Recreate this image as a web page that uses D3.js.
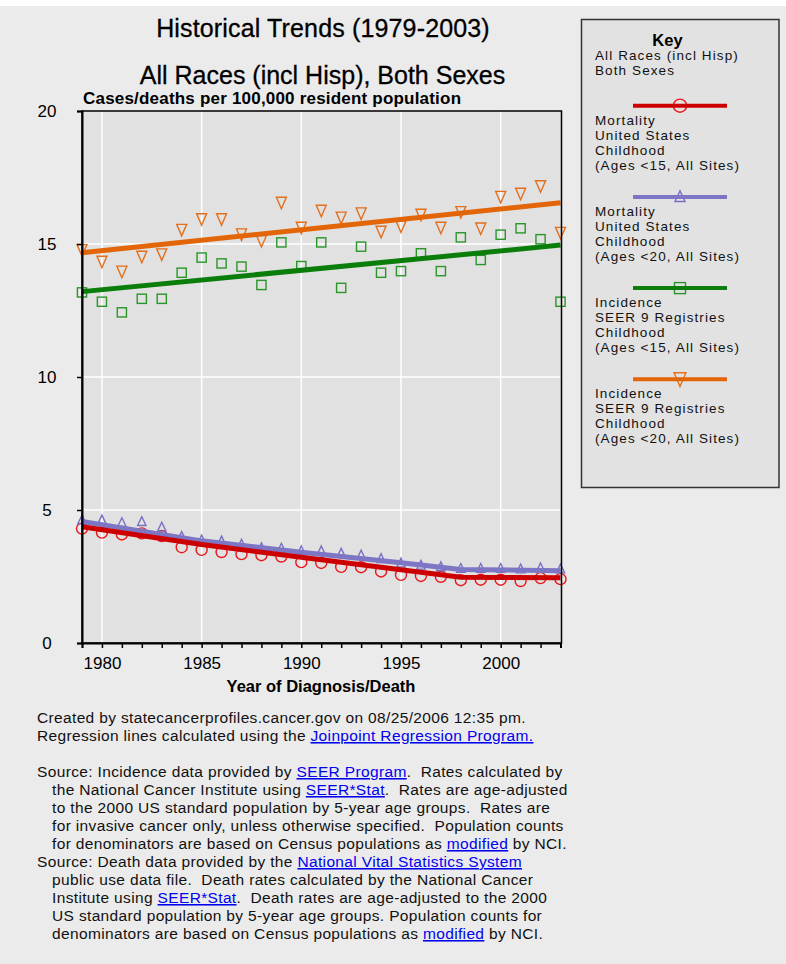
<!DOCTYPE html>
<html>
<head>
<meta charset="utf-8">
<script src="https://cdn.jsdelivr.net/npm/d3@7"></script>
<style>
  body { margin: 0; background: #ebebeb; }
  svg { display: block; font-family: "Liberation Sans", Arial, sans-serif; }
</style>
</head>
<body>
<div id="chart"></div>
<script>
// Childhood cancer trends, 1979-2003
const years = [1979, 1980, 1981, 1982, 1983, 1984, 1985, 1986, 1987, 1988, 1989, 1990, 1991,
  1992, 1993, 1994, 1995, 1996, 1997, 1998, 1999, 2000, 2001, 2002, 2003];
const xTickLabels = [1980, 1985, 1990, 1995, 2000];
const yTickLabels = [0, 5, 10, 15, 20];

const mort15 = [4.30, 4.15, 4.08, 4.12, 4.02, 3.60, 3.50, 3.42, 3.34, 3.30, 3.25, 3.04, 3.01,
  2.86, 2.85, 2.69, 2.56, 2.52, 2.49, 2.36, 2.38, 2.38, 2.33, 2.44, 2.40];
const mort20 = [4.62, 4.62, 4.52, 4.56, 4.35, 4.00, 3.87, 3.83, 3.71, 3.58, 3.56, 3.46, 3.46,
  3.37, 3.30, 3.17, 3.00, 2.92, 2.86, 2.80, 2.80, 2.80, 2.78, 2.82, 2.78];
const inc15 = [13.18, 12.83, 12.43, 12.94, 12.94, 13.92, 14.49, 14.27, 14.15, 13.46, 15.06, 14.17, 15.06,
  13.35, 14.90, 13.92, 13.98, 14.65, 13.98, 15.25, 14.40, 15.35, 15.59, 15.18, 12.83];
const inc20 = [14.77, 14.33, 13.96, 14.52, 14.61, 15.53, 15.93, 15.93, 15.36, 15.11, 16.55, 15.61, 16.25,
  15.99, 16.15, 15.46, 15.66, 16.10, 15.61, 16.20, 15.58, 16.77, 16.89, 17.17, 15.42];

// Joinpoint regression lines (fitted values at the knots)
const mort15TrendYears = [1979, 1985, 1990, 1995, 1998, 2003];
const mort15Trend = [4.37, 3.70, 3.22, 2.75, 2.47, 2.45];
const mort20TrendYears = [1979, 1985, 1990, 1995, 1998, 2003];
const mort20Trend = [4.57, 3.84, 3.41, 3.02, 2.76, 2.72];
const inc15TrendYears = [1979, 2003];
const inc15Trend = [13.21, 14.96];
const inc20TrendYears = [1979, 2003];
const inc20Trend = [14.67, 16.55];

const legendHeader = ["All Races (incl Hisp)", "Both Sexes"];
const legendLabels = [
  ["Mortality", "United States", "Childhood", "(Ages <15, All Sites)"],
  ["Mortality", "United States", "Childhood", "(Ages <20, All Sites)"],
  ["Incidence", "SEER 9 Registries", "Childhood", "(Ages <15, All Sites)"],
  ["Incidence", "SEER 9 Registries", "Childhood", "(Ages <20, All Sites)"]
];

// footer: [text, isLink] segments per line
const footerLines = [
  [["Created by statecancerprofiles.cancer.gov on 08/25/2006 12:35 pm.", false]],
  [["Regression lines calculated using the ", false], ["Joinpoint Regression Program.", true]],
  null,
  [["Source: Incidence data provided by ", false], ["SEER Program", true], [".  Rates calculated by", false]],
  [["the National Cancer Institute using ", false], ["SEER*Stat", true], [".  Rates are age-adjusted", false]],
  [["to the 2000 US standard population by 5-year age groups.  Rates are", false]],
  [["for invasive cancer only, unless otherwise specified.  Population counts", false]],
  [["for denominators are based on Census populations as ", false], ["modified", true], [" by NCI.", false]],
  [["Source: Death data provided by the ", false], ["National Vital Statistics System", true]],
  [["public use data file.  Death rates calculated by the National Cancer", false]],
  [["Institute using ", false], ["SEER*Stat", true], [".  Death rates are age-adjusted to the 2000", false]],
  [["US standard population by 5-year age groups. Population counts for", false]],
  [["denominators are based on Census populations as ", false], ["modified", true], [" by NCI.", false]]
];
const footerIndent = [false, false, false, false, true, true, true, true, false, true, true, true, true];

(function () {
  const W = 786, H = 964;
  const svg = d3.select("#chart").append("svg")
    .attr("width", W).attr("height", H)
    .attr("viewBox", `0 0 ${W} ${H}`);

  svg.append("rect").attr("width", W).attr("height", H).attr("fill", "#ebebeb");
  svg.append("rect").attr("width", W).attr("height", 6).attr("fill", "#ffffff");

  const x = d3.scaleLinear().domain([1979, 2003]).range([82, 560.5]);
  const y = d3.scaleLinear().domain([0, 20]).range([643, 111]);

  const series = [
    { values: mort15, ty: mort15TrendYears, tv: mort15Trend, line: "#cc0000", mark: "#e8181c", sym: "circle" },
    { values: mort20, ty: mort20TrendYears, tv: mort20Trend, line: "#7d76c4", mark: "#7770c4", sym: "up" },
    { values: inc15, ty: inc15TrendYears, tv: inc15Trend, line: "#0a7d0a", mark: "#2a962a", sym: "square" },
    { values: inc20, ty: inc20TrendYears, tv: inc20Trend, line: "#e26508", mark: "#e36f1c", sym: "down" }
  ];

  function marker(g, sym, cx, cy, big) {
    const k = big ? 1.2 : 1;
    if (sym === "circle") {
      g.append("circle").attr("cx", cx).attr("cy", cy).attr("r", 5.5 * k);
    } else if (sym === "square") {
      g.append("rect").attr("x", cx - 4.6 * k).attr("y", cy - 4.6 * k)
        .attr("width", 9.2 * k).attr("height", 9.2 * k);
    } else if (sym === "up") {
      g.append("path").attr("d",
        `M${cx},${cy - 5 * k}L${cx + 4.2 * k},${cy + 3.8 * k}L${cx - 4.2 * k},${cy + 3.8 * k}Z`);
    } else {
      g.append("path").attr("d",
        `M${cx - 5 * k},${cy - 5.5 * k}L${cx + 5 * k},${cy - 5.5 * k}L${cx},${cy + 6 * k}Z`);
    }
  }

  // plot background + grid
  svg.append("rect")
    .attr("x", x(1979)).attr("y", y(20))
    .attr("width", x(2003) - x(1979) + 1).attr("height", y(0) - y(20))
    .attr("fill", "#e1e1e1");

  const grid = svg.append("g").attr("stroke", "#ffffff").attr("stroke-width", 1.5);
  xTickLabels.forEach(t => grid.append("line")
    .attr("x1", x(t)).attr("x2", x(t)).attr("y1", y(0)).attr("y2", y(20)));
  yTickLabels.filter(t => t > 0 && t < 20).forEach(t => grid.append("line")
    .attr("x1", x(1979)).attr("x2", x(2003)).attr("y1", y(t)).attr("y2", y(t)));

  // markers (drawn under the regression lines)
  series.forEach(s => {
    const g = svg.append("g").attr("fill", "none").attr("stroke", s.mark).attr("stroke-width", 1.4);
    s.values.forEach((v, i) => marker(g, s.sym, x(years[i]), y(v), false));
  });

  // regression lines
  const line = d3.line().x(d => x(d[0])).y(d => y(d[1]));
  [1, 0, 2, 3].forEach(idx => {
    const s = series[idx];
    svg.append("path")
      .datum(s.ty.map((yr, i) => [yr, s.tv[i]]))
      .attr("d", line)
      .attr("fill", "none")
      .attr("stroke", s.line)
      .attr("stroke-width", 5);
  });

  // frame
  svg.append("rect")
    .attr("x", x(1979)).attr("y", y(20))
    .attr("width", x(2003) - x(1979) + 1).attr("height", y(0) - y(20))
    .attr("fill", "none").attr("stroke", "#000").attr("stroke-width", 1.5);

  // axes
  const xAxis = svg.append("g")
    .attr("transform", `translate(0,${y(0)})`)
    .call(d3.axisBottom(x).tickValues(years).tickSize(5).tickPadding(9)
      .tickFormat(d => xTickLabels.includes(d) ? d : ""));
  xAxis.select(".domain").attr("stroke", "#000").attr("stroke-width", 2);
  xAxis.selectAll(".tick line").attr("stroke", "#000").attr("stroke-width", 1.5);
  xAxis.selectAll("text").attr("font-size", 17).attr("fill", "#000")
    .attr("font-family", "Liberation Sans, Arial, sans-serif");

  const yAxis = svg.append("g")
    .attr("transform", `translate(${x(1979)},0)`)
    .call(d3.axisLeft(y).tickValues(yTickLabels).tickSize(5));
  yAxis.select(".domain").attr("stroke", "#000").attr("stroke-width", 2);
  yAxis.selectAll(".tick line").attr("stroke", "#000").attr("stroke-width", 1.5);
  yAxis.selectAll("text").attr("font-size", 17).attr("fill", "#000")
    .attr("text-anchor", "middle").attr("x", -35)
    .attr("font-family", "Liberation Sans, Arial, sans-serif");

  // titles
  svg.append("text").attr("x", 323).attr("y", 37).attr("text-anchor", "middle")
    .attr("font-size", 25).attr("letter-spacing", 0.15).attr("fill", "#000")
    .attr("stroke", "#000").attr("stroke-width", 0.3)
    .text("Historical Trends (1979-2003)");
  svg.append("text").attr("x", 322.5).attr("y", 84).attr("text-anchor", "middle")
    .attr("font-size", 25).attr("fill", "#000")
    .attr("stroke", "#000").attr("stroke-width", 0.3)
    .text("All Races (incl Hisp), Both Sexes");
  svg.append("text").attr("x", 83).attr("y", 104)
    .attr("font-size", 17).attr("font-weight", "bold").attr("letter-spacing", 0.2)
    .text("Cases/deaths per 100,000 resident population");
  svg.append("text").attr("x", 321).attr("y", 692).attr("text-anchor", "middle")
    .attr("font-size", 16.5).attr("font-weight", "bold")
    .text("Year of Diagnosis/Death");

  // legend
  const lg = svg.append("g");
  lg.append("rect").attr("x", 581.5).attr("y", 19.5).attr("width", 197.5).attr("height", 468)
    .attr("fill", "#e2e2e2").attr("stroke", "#333").attr("stroke-width", 1.5);
  lg.append("text").attr("x", 667.5).attr("y", 45.5).attr("text-anchor", "middle")
    .attr("font-size", 16.5).attr("font-weight", "bold").text("Key");
  legendHeader.forEach((t, i) => lg.append("text")
    .attr("x", 595).attr("y", 60 + i * 15)
    .attr("font-size", 13.5).attr("letter-spacing", 1.1).attr("fill", "#111").text(t));

  series.forEach((s, i) => {
    const ly = 105.7 + i * 91.2;
    const mg = lg.append("g").attr("fill", "none").attr("stroke", s.mark).attr("stroke-width", 1.4);
    marker(mg, s.sym, 680, ly, true);
    lg.append("line").attr("x1", 633).attr("x2", 727).attr("y1", ly).attr("y2", ly)
      .attr("stroke", s.line).attr("stroke-width", 4);
    legendLabels[i].forEach((t, j) => lg.append("text")
      .attr("x", 595).attr("y", ly + 19 + j * 15)
      .attr("font-size", 13.5).attr("letter-spacing", 1.1).attr("fill", "#111").text(t));
  });

  // footer
  const fg = svg.append("g").attr("font-size", 15.5).attr("letter-spacing", 0.35).attr("fill", "#111");
  footerLines.forEach((ln, i) => {
    if (!ln) return;
    const t = fg.append("text")
      .attr("x", footerIndent[i] ? 52 : 37).attr("y", 723 + i * 18)
      .attr("xml:space", "preserve").style("white-space", "pre");
    ln.forEach(([txt, link]) => {
      const sp = t.append("tspan").text(txt);
      if (link) sp.attr("fill", "#0000ee").attr("text-decoration", "underline");
    });
  });
})();
</script>
</body>
</html>
